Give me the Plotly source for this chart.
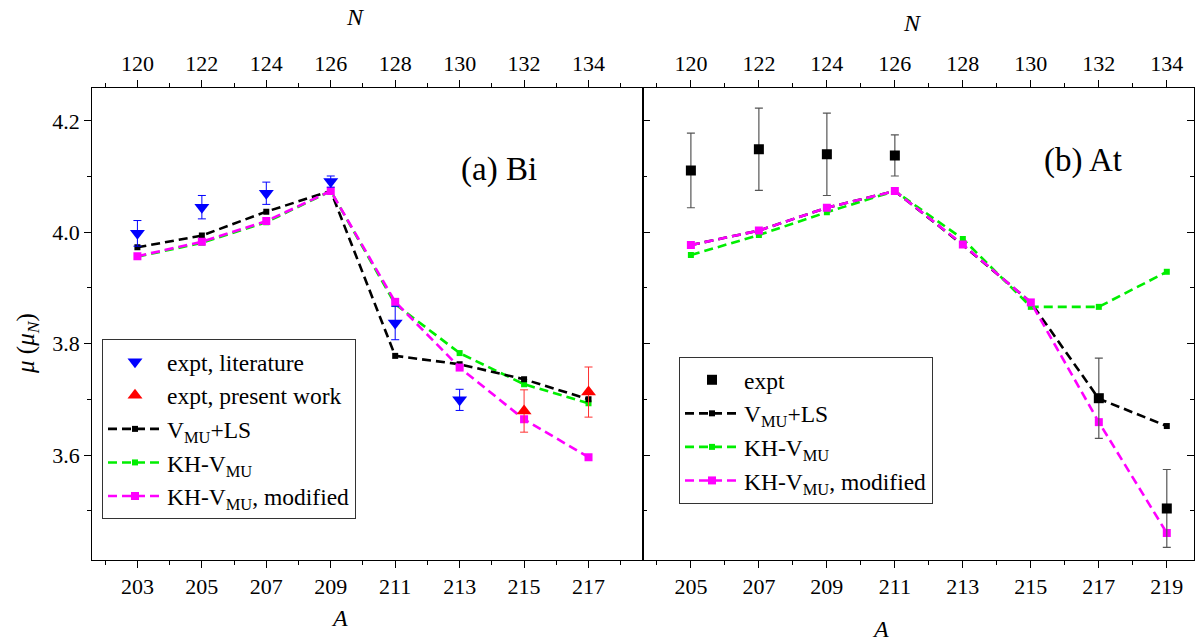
import plotly.graph_objects as go

# ---------------- data ----------------
Z_BI = 83
Z_AT = 85

# (a) Bi
A_bi = [203, 205, 207, 209, 211, 213, 215, 217]
lit_A = [203, 205, 207, 209, 211, 213]
lit_mu = [3.998, 4.045, 4.070, 4.091, 3.837, 3.699]
lit_err = [0.023, 0.021, 0.020, 0.010, 0.030, 0.019]
pw_A = [215, 217]
pw_mu = [3.679, 3.713]
pw_err = [0.038, 0.045]
vmu_ls_bi = [3.973, 3.994, 4.037, 4.074, 3.778, 3.763, 3.736, 3.700]
kh_bi = [3.956, 3.981, 4.018, 4.074, 3.871, 3.783, 3.727, 3.693]
khmod_bi = [3.957, 3.983, 4.020, 4.074, 3.875, 3.757, 3.664, 3.596]

# (b) At
A_at = [205, 207, 209, 211, 213, 215, 217, 219]
expt_at_A = [205, 207, 209, 211, 217, 219]
expt_at_mu = [4.111, 4.149, 4.140, 4.138, 3.702, 3.504]
expt_at_err = [0.067, 0.074, 0.074, 0.037, 0.072, 0.070]
vmu_ls_at = [3.977, 4.003, 4.044, 4.074, 3.977, 3.874, 3.701, 3.652]
kh_at = [3.959, 3.995, 4.036, 4.074, 3.988, 3.866, 3.866, 3.929]
khmod_at = [3.977, 4.003, 4.044, 4.074, 3.978, 3.874, 3.659, 3.460]

# tick labels
A_ticks_bi = [203, 205, 207, 209, 211, 213, 215, 217]
A_ticks_at = [205, 207, 209, 211, 213, 215, 217, 219]
N_ticks = [120, 122, 124, 126, 128, 130, 132, 134]
mu_ticks = [3.6, 3.8, 4.0, 4.2]

# ---------------- style ----------------
FONT = "Liberation Serif"
W, H = 1198, 642
px_x = lambda p: p / W
px_y = lambda p: 1 - p / H

XL = (92.3, 643.3)
XR = (643.3, 1194.0)
YP = (88.0, 559.7)

x1_range = [201.6, 218.7]
x2_range = [203.6, 219.8]
y_range = [3.412, 4.259]

DASH = "9px,5px"
LW = 2.6

fig = go.Figure()

def theory(xs, ys, color, size, name, xa, ya, legend, rank):
    fig.add_trace(go.Scatter(
        x=xs, y=ys, mode="lines+markers", name=name,
        line=dict(color=color, width=LW, dash=DASH),
        marker=dict(symbol="square", size=size, color=color),
        xaxis=xa, yaxis=ya, legend=legend, legendrank=rank))

# ----- left panel (Bi) -----
theory(A_bi, kh_bi, "#00EE00", 6, "KH-V<sub>MU</sub>", "x", "y", "legend", 4)
theory(A_bi, vmu_ls_bi, "black", 6, "V<sub>MU</sub>+LS", "x", "y", "legend", 3)
theory(A_bi, khmod_bi, "#FF00FF", 8, "KH-V<sub>MU</sub>, modified", "x", "y", "legend", 5)
fig.add_trace(go.Scatter(
    x=lit_A, y=lit_mu, mode="markers", name="expt, literature",
    marker=dict(symbol="triangle-down", size=13, color="#0000FF"),
    error_y=dict(type="data", array=lit_err, color="#0000FF", thickness=1, width=4),
    xaxis="x", yaxis="y", legend="legend", legendrank=1))
fig.add_trace(go.Scatter(
    x=pw_A, y=pw_mu, mode="markers", name="expt, present work",
    marker=dict(symbol="triangle-up", size=13, color="#FF0000"),
    error_y=dict(type="data", array=pw_err, color="#FF3030", thickness=1, width=4),
    xaxis="x", yaxis="y", legend="legend", legendrank=2))
# top N axis carrier (invisible)
fig.add_trace(go.Scatter(
    x=[a - Z_BI for a in A_bi], y=khmod_bi, mode="markers",
    marker=dict(opacity=0), showlegend=False, hoverinfo="skip",
    xaxis="x3", yaxis="y"))

# ----- right panel (At) -----
theory(A_at, vmu_ls_at, "black", 6, "V<sub>MU</sub>+LS", "x2", "y2", "legend2", 2)
theory(A_at, kh_at, "#00EE00", 6, "KH-V<sub>MU</sub>", "x2", "y2", "legend2", 3)
theory(A_at, khmod_at, "#FF00FF", 8, "KH-V<sub>MU</sub>, modified", "x2", "y2", "legend2", 4)
fig.add_trace(go.Scatter(
    x=expt_at_A, y=expt_at_mu, mode="markers", name="expt",
    marker=dict(symbol="square", size=10, color="black"),
    error_y=dict(type="data", array=expt_at_err, color="#555555", thickness=1.2, width=4),
    xaxis="x2", yaxis="y2", legend="legend2", legendrank=1))
fig.add_trace(go.Scatter(
    x=[a - Z_AT for a in A_at], y=khmod_at, mode="markers",
    marker=dict(opacity=0), showlegend=False, hoverinfo="skip",
    xaxis="x4", yaxis="y2"))

tickfont = dict(family=FONT, size=22, color="black")
common_x = dict(showgrid=False, zeroline=False, showline=True, linecolor="black",
                linewidth=1.2, ticks="outside", ticklen=7, tickwidth=1.2,
                tickcolor="black", tickfont=tickfont,
                minor=dict(dtick=1, ticks="outside", ticklen=4, tickcolor="black", tickwidth=1.2))
common_y = dict(showgrid=False, zeroline=False, showline=True, linecolor="black",
                linewidth=1.2, range=y_range, tickmode="array", tickvals=mu_ticks,
                ticktext=[f"{v:.1f}" for v in mu_ticks], tickfont=tickfont,
                ticklen=7, tickwidth=1.2, tickcolor="black",
                minor=dict(dtick=0.1, tick0=3.5, ticklen=4, tickcolor="black", tickwidth=1.2))

fig.update_layout(
    width=W, height=H, margin=dict(l=0, r=0, t=0, b=0),
    paper_bgcolor="white", plot_bgcolor="white",
    font=dict(family=FONT, size=22, color="black"),
    xaxis=dict(common_x, domain=[px_x(XL[0]), px_x(XL[1])], range=x1_range,
               tickmode="array", tickvals=A_ticks_bi, anchor="y", mirror=False),
    xaxis2=dict(common_x, domain=[px_x(XR[0]), px_x(XR[1])], range=x2_range,
                tickmode="array", tickvals=A_ticks_at, anchor="y2", mirror=False),
    xaxis3=dict(common_x, overlaying="x", side="top", anchor="y",
                range=[x1_range[0] - Z_BI, x1_range[1] - Z_BI],
                tickmode="array", tickvals=N_ticks),
    xaxis4=dict(common_x, overlaying="x2", side="top", anchor="y2",
                range=[x2_range[0] - Z_AT, x2_range[1] - Z_AT],
                tickmode="array", tickvals=N_ticks),
    yaxis=dict(common_y, domain=[px_y(YP[1]), px_y(YP[0])], anchor="x",
               ticks="outside", mirror=True,
               minor_ticks="outside"),
    yaxis2=dict(common_y, domain=[px_y(YP[1]), px_y(YP[0])], anchor="x2",
                ticks="inside", mirror="ticks", showticklabels=False,
                minor_ticks="inside"),
    legend=dict(x=px_x(102), y=px_y(339), xanchor="left", yanchor="top",
                bgcolor="white", bordercolor="#333333", borderwidth=1,
                font=dict(family=FONT, size=23.5, color="black"),
                itemwidth=54, traceorder="normal"),
    legend2=dict(x=px_x(679), y=px_y(357), xanchor="left", yanchor="top",
                 bgcolor="white", bordercolor="#333333", borderwidth=1,
                 font=dict(family=FONT, size=23.5, color="black"),
                 itemwidth=54, traceorder="normal"),
    showlegend=True,
)

ann = []
def label(text, xp, yp, size, angle=0):
    ann.append(dict(text=text, x=px_x(xp), y=px_y(yp), xref="paper", yref="paper",
                    showarrow=False, xanchor="center", yanchor="middle",
                    textangle=angle, font=dict(family=FONT, size=size, color="black")))

label("(a) Bi", 499, 170, 33)
label("(b) At", 1083, 160, 33)
label("<i>N</i>", 355, 17, 24)
label("<i>N</i>", 913, 23, 24)
label("<i>A</i>", 340, 618, 24)
label("<i>A</i>", 881, 629, 24)
label("<i>μ</i> (<i>μ<sub>N</sub></i>)", 28, 344, 25, angle=-90)
fig.update_layout(annotations=ann)

fig.write_html("out.html")
